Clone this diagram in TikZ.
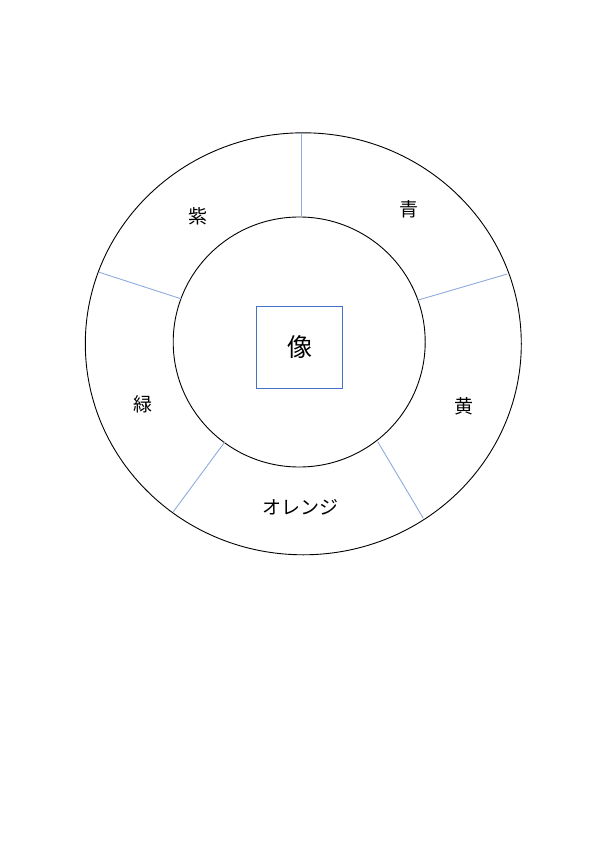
\documentclass[tikz,border=0pt]{standalone}
\usepackage{fontspec}
\newfontfamily\jpfont{Noto Sans CJK JP}
\usetikzlibrary{shapes.geometric}
\definecolor{divblue}{HTML}{8FAADC}
\definecolor{boxblue}{HTML}{4472C4}

\tikzset{
ring/.style = {draw, ellipse, line width=0.9pt, inner sep=0pt},
divider/.style = {draw=divblue, line width=0.9pt},
colname/.style = {font=\jpfont\fontsize{19}{21}\selectfont}
}

\begin{document}
\begin{tikzpicture}[x=1pt,y=-1pt]
\useasboundingbox (0,0) rectangle (600,848);

% rings
\node[ring, minimum width=436pt, minimum height=422pt] (outer) at (303.3,343.8) {};
\node[ring, minimum width=252pt, minimum height=250pt] (inner) at (299.2,342) {};

% centre box
\node[draw=boxblue, line width=1.2pt, minimum width=85.6pt, minimum height=81.6pt,
	font=\jpfont\fontsize{25}{27}\selectfont] (image) at (299.5,347.5) {像};

% dividers between the colours
\foreach \a/\b/\c/\d [count=\i] in {301/133.3/301/217.3, 507.3/274/418.3/300,
	99.3/272.3/181.7/299, 173.3/511.7/225/441.7, 423.3/518.3/377.7/441.7}
{
	\coordinate (out\i) at (\a,\b);
	\coordinate (in\i) at (\c,\d);
	\draw[divider] (out\i) -- (in\i);
}

% colour names
\foreach \x/\y/\t/\n in {198.3/216.7/紫/purple, 409.3/209.3/青/blue,
	143.3/404/緑/green, 464/406/黄/yellow, 300/507.7/オレンジ/orange}
{
	\node[colname] (\n) at (\x,\y) {\t};
}
\end{tikzpicture}
\end{document}
